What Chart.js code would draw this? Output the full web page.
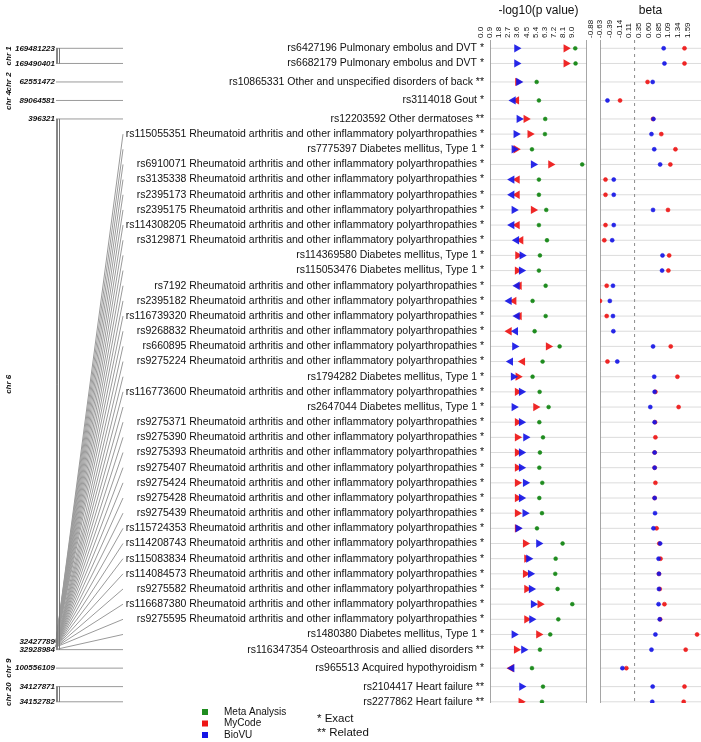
<!DOCTYPE html>
<html><head><meta charset="utf-8">
<script src="https://cdn.jsdelivr.net/npm/chart.js@4.4.1/dist/chart.umd.min.js"></script>
<style>html,body{margin:0;padding:0;background:#fff;}canvas{display:block;}</style>
</head><body>
<canvas id="c" width="701" height="742"></canvas>
<script>
const RA = 'Rheumatoid arthritis and other inflammatory polyarthropathies *';
const T1D = 'Diabetes mellitus, Type 1 *';
const snps = ['rs6427196','rs6682179','rs10865331','rs3114018','rs12203592','rs115055351','rs7775397','rs6910071','rs3135338','rs2395173','rs2395175','rs114308205','rs3129871','rs114369580','rs115053476','rs7192','rs2395182','rs116739320','rs9268832','rs660895','rs9275224','rs1794282','rs116773600','rs2647044','rs9275371','rs9275390','rs9275393','rs9275407','rs9275424','rs9275428','rs9275439','rs115724353','rs114208743','rs115083834','rs114084573','rs9275582','rs116687380','rs9275595','rs1480380','rs116347354','rs965513','rs2104417','rs2277862'];
const traits = ['Pulmonary embolus and DVT *','Pulmonary embolus and DVT *','Other and unspecified disorders of back **','Gout *','Other dermatoses **',RA,T1D,RA,RA,RA,RA,RA,RA,T1D,T1D,RA,RA,RA,RA,RA,RA,T1D,RA,T1D,RA,RA,RA,RA,RA,RA,RA,RA,RA,RA,RA,RA,RA,RA,T1D,'Osteoarthrosis and allied disorders **','Acquired hypothyroidism *','Heart failure **','Heart failure **'];
const chromosomes = ['1','1','2','4','6','6','6','6','6','6','6','6','6','6','6','6','6','6','6','6','6','6','6','6','6','6','6','6','6','6','6','6','6','6','6','6','6','6','6','6','9','20','20'];
const positions = [169481223,169490401,62551472,89064581,396321,32427789,32436000,32445000,32452000,32459000,32463000,32470000,32476000,32481000,32487000,32490000,32493000,32498000,32512000,32660000,32739000,32740000,32745000,32748000,32750000,32751000,32752000,32753000,32754000,32754500,32755000,32756000,32757000,32758000,32760000,32763000,32765000,32766000,32915000,32928984,100556109,34127871,34152782];
const pMeta   = [8.35,8.38,4.57,4.79,5.41,5.38,4.11,9.03,4.79,4.79,5.51,4.79,5.58,4.89,4.79,5.45,4.17,5.45,4.37,6.82,5.15,4.17,4.86,5.74,4.83,5.19,4.89,4.83,5.12,4.83,5.09,4.60,7.11,6.43,6.39,6.62,8.06,6.69,5.90,4.89,4.11,5.19,5.09];
const pMyCode = [7.44,7.44,2.70,2.61,3.52,3.91,2.54,5.94,2.67,2.67,4.24,2.67,3.03,2.71,2.67,2.87,2.35,2.87,1.89,5.71,3.20,2.74,2.67,4.47,2.67,2.67,2.67,2.67,2.67,2.67,2.67,2.67,3.46,3.59,3.46,3.59,4.89,3.59,4.76,2.58,2.09,null,3.03];
const pBioVU  = [2.61,2.61,2.80,2.28,2.84,2.54,2.35,4.24,2.15,2.15,2.35,2.15,2.61,3.13,3.07,2.67,1.89,2.67,2.51,2.41,2.02,2.28,3.07,2.35,3.07,3.49,3.07,3.07,3.46,3.07,3.42,2.74,4.76,3.78,3.95,4.04,4.24,4.08,2.35,3.29,2.15,3.10,null];
const betaMyCode = [1.27,1.27,0.33,-0.37,0.47,0.68,1.04,0.91,-0.74,-0.74,0.85,-0.74,-0.77,0.88,0.86,-0.71,-0.88,-0.71,null,0.92,-0.69,1.09,0.53,1.12,0.52,0.53,0.51,0.51,0.53,0.51,null,0.56,0.63,0.66,0.62,0.64,0.76,0.65,1.59,1.30,-0.21,1.27,1.25];
const betaBioVU  = [0.74,0.76,0.46,-0.69,0.48,0.43,0.50,0.65,-0.53,-0.53,0.47,-0.53,-0.57,0.71,0.70,-0.55,-0.63,-0.55,-0.54,0.47,-0.44,0.50,0.51,0.40,0.51,null,0.51,0.51,null,0.51,0.52,0.48,0.65,0.61,0.62,0.62,0.61,0.64,0.53,0.43,-0.31,0.46,0.45];
const pTicks = [0,0.9,1.8,2.7,3.6,4.5,5.4,6.3,7.2,8.1,9.0];
const betaTicks = [-0.88,-0.633,-0.386,-0.139,0.108,0.355,0.602,0.849,1.096,1.343,1.59];
const betaTickLabels = ['-0.88','-0.63','-0.39','-0.14','0.11','0.35','0.60','0.85','1.09','1.34','1.59'];
const legendLabels = ['Meta Analysis','MyCode','BioVU'];
const noteLabels = ['* Exact','** Related'];

const GREEN = '#1f8c1f', RED = 'rgba(238,22,22,0.92)', BLUE = 'rgba(22,22,230,0.92)';
const FONT = '"Liberation Sans", Arial, Helvetica, sans-serif';

// row positions (layout): gap between chromosome groups
const rowY = [];
chromosomes.forEach((c, i) => {
  rowY.push(i === 0 ? 0 : rowY[i - 1] + (c === chromosomes[i - 1] ? 1 : 1.22));
});
// chromosome groups
const groups = [];
chromosomes.forEach((c, i) => {
  let g = groups.find(g => g.chr === c);
  if (!g) { g = {chr: c, idx: []}; groups.push(g); }
  g.idx.push(i);
});
groups.forEach(g => {
  g.first = g.idx[0]; g.last = g.idx[g.idx.length - 1];
  g.pmin = Math.min(...g.idx.map(i => positions[i]));
  g.pmax = Math.max(...g.idx.map(i => positions[i]));
});
function posY(i) {
  const g = groups.find(g => g.chr === chromosomes[i]);
  if (g.pmax === g.pmin) return rowY[g.first];
  return rowY[g.first] + (positions[i] - g.pmin) / (g.pmax - g.pmin) * (rowY[g.last] - rowY[g.first]);
}

const Y_MIN = -0.5475, Y_MAX = 43.18;
const P_MIN = 0, P_MAX = 9.5, B_MIN = -0.88, B_MAX = 1.69;
const BAR_X1 = 57, BAR_X2 = 59.5, FAN_END = 123;

function segs(list) { const out = []; list.forEach((s, k) => { if (k) out.push({x: s[0].x, y: null}); out.push(s[0], s[1]); }); return out; }

const pGrid = segs(rowY.map(u => [{x: P_MIN, y: u}, {x: P_MAX, y: u}]));
const bGrid = segs(rowY.map(u => [{x: B_MIN, y: u}, {x: B_MAX, y: u}]));
const pFrame = segs([[{x: P_MIN, y: Y_MIN}, {x: P_MIN, y: Y_MAX}], [{x: P_MAX, y: Y_MIN}, {x: P_MAX, y: Y_MAX}]]);
const bFrame = [{x: B_MIN, y: Y_MIN}, {x: B_MIN, y: Y_MAX}];
const zeroLine = [{x: 0, y: Y_MIN}, {x: 0, y: Y_MAX}];
const barSegs = [];
groups.filter(g => g.idx.length > 1).forEach(g => {
  barSegs.push([{x: BAR_X1, y: rowY[g.first]}, {x: BAR_X1, y: rowY[g.last]}]);
  barSegs.push([{x: BAR_X2, y: rowY[g.first]}, {x: BAR_X2, y: rowY[g.last]}]);
});
const fanSegs = snps.map((s, i) => [{x: BAR_X1 - 1, y: posY(i)}, {x: FAN_END, y: rowY[i]}]);

const pts = (xs) => xs.map((v, i) => ({x: v, y: rowY[i]}));
const dir = (own, other) => (ctx) => {
  const v = own[ctx.dataIndex] !== null ? own[ctx.dataIndex] : other[ctx.dataIndex];
  return v < 0 ? -90 : 90;
};
const lineDS = (data, axis, color, extra) => Object.assign({type: 'scatter', data, xAxisID: axis, yAxisID: 'y', showLine: true, borderColor: color, borderWidth: 1, pointRadius: 0, spanGaps: false, order: 20}, extra || {});

const data = {datasets: [
  lineDS(pGrid, 'xP', '#dcdcdc', {order: 30}),
  lineDS(bGrid, 'xB', '#dcdcdc', {order: 30}),
  lineDS(pFrame, 'xP', '#9a9a9a', {order: 25}),
  lineDS(bFrame, 'xB', '#9a9a9a', {order: 25}),
  lineDS(zeroLine, 'xB', '#8a8a8a', {borderDash: [3, 4], order: 24}),
  lineDS(segs(barSegs), 'xL', '#777', {order: 22}),
  lineDS(segs(fanSegs), 'xL', '#9a9a9a', {order: 23}),
  {label: 'Meta Analysis', type: 'scatter', data: pts(pMeta), xAxisID: 'xP', yAxisID: 'y', pointStyle: 'circle', pointRadius: 1.9, pointBorderWidth: 0.6, backgroundColor: GREEN, borderColor: GREEN, order: 3},
  {label: 'MyCode', type: 'scatter', data: pts(pMyCode), xAxisID: 'xP', yAxisID: 'y', pointStyle: 'triangle', pointRadius: 4.8, pointBorderWidth: 0, pointRotation: dir(betaMyCode, betaBioVU), backgroundColor: RED, borderColor: RED, order: 2},
  {label: 'BioVU', type: 'scatter', data: pts(pBioVU), xAxisID: 'xP', yAxisID: 'y', pointStyle: 'triangle', pointRadius: 4.8, pointBorderWidth: 0, pointRotation: dir(betaBioVU, betaMyCode), backgroundColor: BLUE, borderColor: BLUE, order: 1},
  {label: 'MyCode beta', type: 'scatter', data: pts(betaMyCode), xAxisID: 'xB', yAxisID: 'y', pointStyle: 'circle', pointRadius: 2, pointBorderWidth: 0.6, backgroundColor: RED, borderColor: RED, order: 2},
  {label: 'BioVU beta', type: 'scatter', data: pts(betaBioVU), xAxisID: 'xB', yAxisID: 'y', pointStyle: 'circle', pointRadius: 2, pointBorderWidth: 0.6, backgroundColor: BLUE, borderColor: BLUE, order: 1}
]};

const fit40 = (s) => { s.height = 40; s.paddingLeft = 0; s.paddingRight = 0; s.paddingTop = 0; s.paddingBottom = 0; };
const topAxis = (min, max, weight, stackWeight, extra) => Object.assign({
  type: 'linear', position: 'top', stack: 'panels', stackWeight, weight, min, max, display: false,
  grid: {display: false, drawTicks: false}, border: {display: false}, afterFit: fit40
}, extra || {});

const textPlugin = {
  id: 'texts',
  afterDatasetsDraw(chart) {
    const {ctx} = chart; const y = chart.scales.y;
    ctx.save();
    // row labels
    ctx.fillStyle = '#111'; ctx.textAlign = 'right'; ctx.textBaseline = 'middle';
    ctx.font = '10.5px ' + FONT;
    snps.forEach((s, i) => ctx.fillText(s + ' ' + traits[i], 484, y.getPixelForValue(rowY[i])));
    // genomic position labels (first, last, and any that do not overlap)
    ctx.font = 'italic bold 8px ' + FONT;
    groups.forEach(g => {
      const lastPx = y.getPixelForValue(posY(g.last));
      let prev = -1e9;
      g.idx.forEach(i => {
        const py = y.getPixelForValue(posY(i));
        const isLast = i === g.last;
        if (isLast || (py - prev >= 7.5 && lastPx - py >= 7.5)) { ctx.fillText(String(positions[i]), 55, py); prev = py; }
      });
      const cy = (y.getPixelForValue(rowY[g.first]) + y.getPixelForValue(rowY[g.last])) / 2;
      ctx.save(); ctx.translate(9, cy); ctx.rotate(-Math.PI / 2);
      ctx.textAlign = 'center'; ctx.fillText('chr ' + g.chr, 0, 0); ctx.restore();
    });
    // legend
    const cols = [GREEN, '#ee1616', '#1616e6'];
    ctx.textAlign = 'left'; ctx.font = '10px ' + FONT;
    legendLabels.forEach((l, k) => {
      const ly = 712 + k * 11.5;
      ctx.fillStyle = cols[k]; ctx.fillRect(202, ly - 3, 6, 6);
      ctx.fillStyle = '#111'; ctx.fillText(l, 224, ly);
    });
    ctx.font = '11.5px ' + FONT;
    noteLabels.forEach((l, k) => ctx.fillText(l, 317, 719 + k * 14));
    ctx.restore();
  }
};

new Chart(document.getElementById('c'), {
  type: 'scatter',
  data,
  options: {
    responsive: false, animation: false, devicePixelRatio: 1, events: [],
    layout: {autoPadding: false, padding: {top: 0, bottom: 39, left: 0, right: 0}},
    plugins: {legend: {display: false}, tooltip: {enabled: false}},
    scales: {
      y: {type: 'linear', reverse: true, min: Y_MIN, max: Y_MAX, display: false},
      xL: topAxis(0, 490, 4, 490),
      xP: topAxis(P_MIN, P_MAX, 3, 97, {
        display: true,
        afterBuildTicks: (s) => { s.ticks = pTicks.map(v => ({value: v})); },
        ticks: {autoSkip: false, minRotation: 90, maxRotation: 90, padding: 2, color: '#111', font: {size: 8, family: FONT}, callback: (v) => Number(v).toFixed(1)},
        title: {display: true, text: '-log10(p value)', color: '#111', font: {size: 12, family: FONT}, padding: {top: 3, bottom: 2}}
      }),
      xG: topAxis(0, 1, 2, 13),
      xB: topAxis(B_MIN, B_MAX, 1, 101, {
        display: true,
        afterBuildTicks: (s) => { s.ticks = betaTicks.map(v => ({value: v})); },
        ticks: {autoSkip: false, minRotation: 90, maxRotation: 90, padding: 2, color: '#111', font: {size: 8, family: FONT},
          callback: (v) => { let k = 0, d = 1e9; betaTicks.forEach((t, j) => { if (Math.abs(t - v) < d) { d = Math.abs(t - v); k = j; } }); return betaTickLabels[k]; }},
        title: {display: true, text: 'beta', color: '#111', font: {size: 12, family: FONT}, padding: {top: 3, bottom: 2}}
      })
    }
  },
  plugins: [textPlugin]
});
</script>
</body></html>
